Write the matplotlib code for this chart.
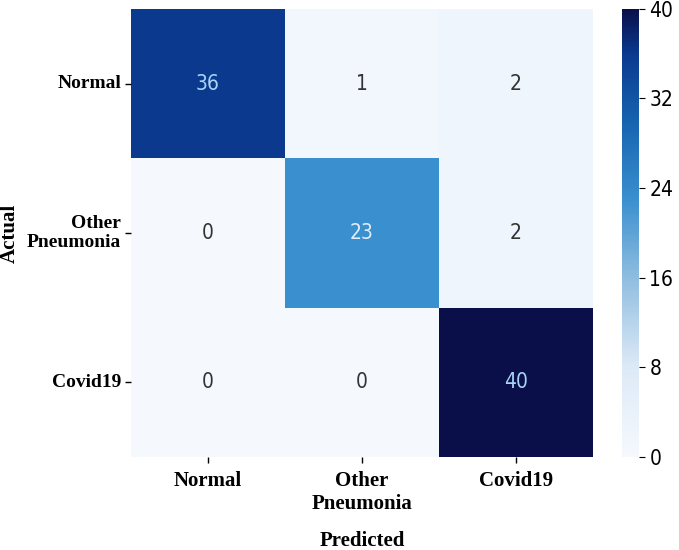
import matplotlib
matplotlib.use("Agg")
import matplotlib.pyplot as plt
from matplotlib.colors import LinearSegmentedColormap
import seaborn as sns
import numpy as np

labels = ["Normal", "Other\nPneumonia", "Covid19"]
row_normal = [36, 1, 2]
row_other = [0, 23, 2]
row_covid = [0, 0, 40]
cbar_ticks = [0, 8, 16, 24, 32, 40]

cm = np.array([row_normal, row_other, row_covid])

# Blues-like map, tuned to the darker look of the original
cmap = LinearSegmentedColormap.from_list("blues_dark", [
    (0.0, "#f5f9fe"),
    (0.2, "#dde9f6"),
    (0.4, "#8fbde0"),
    (0.575, "#3a8fcf"),
    (0.75, "#1663b0"),
    (0.9, "#0a3a8f"),
    (1.0, "#0a0f4a"),
])

fig = plt.figure(figsize=(6.79, 5.5), dpi=100)
ax = fig.add_axes([0.193, 0.169, 0.680, 0.815])
cax = fig.add_axes([0.916, 0.169, 0.025, 0.815])

narrow = {"family": "DejaVu Sans", "stretch": "condensed"}
sns.heatmap(cm, ax=ax, cbar_ax=cax, cmap=cmap, vmin=0, vmax=40,
            annot=True, fmt="d",
            annot_kws={"fontsize": 15, **narrow},
            xticklabels=labels, yticklabels=labels,
            cbar_kws={"ticks": cbar_ticks})

# annotation colours: light on dark cells, grey on light cells
for t in ax.texts:
    v = int(t.get_text())
    t.set_color("#a8d4f5" if v > 30 else ("#e0ecf8" if v > 20 else "#333333"))

serif = {"family": "Liberation Serif", "weight": "bold", "size": 15}
ax.set_xticklabels(labels, rotation=0, **serif)
ax.set_yticklabels(labels, rotation=0, **{**serif, "size": 14})
ax.tick_params(axis="x", length=4, width=1, pad=6)
ax.tick_params(axis="y", length=4, width=1, pad=3)
ax.set_xlabel("Predicted", labelpad=12, **serif)
ax.set_ylabel("Actual", **serif)
ax.yaxis.set_label_coords(-0.24, 0.5)

cax.tick_params(labelsize=15, length=4)
for lab in cax.get_yticklabels():
    lab.set_family("DejaVu Sans")
    lab.set_stretch("condensed")

fig.savefig("out.png", dpi=100)
